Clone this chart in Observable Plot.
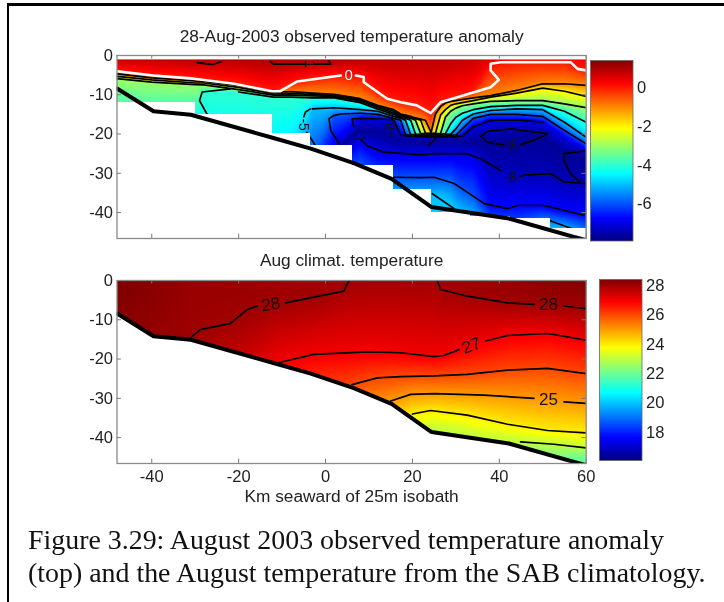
<!DOCTYPE html>
<html>
<head>
<meta charset="utf-8">
<script src="https://cdn.jsdelivr.net/npm/d3@7"></script>
<script src="https://cdn.jsdelivr.net/npm/@observablehq/plot@0.6"></script>
<style>
html,body{margin:0;padding:0;background:#fff}
#page{position:relative;width:724px;height:602px;overflow:hidden;background:#fff;font-family:"Liberation Sans",Arial,sans-serif;filter:blur(0.45px)}
#page svg{position:absolute;background:transparent;max-width:none}
.cap{position:absolute;left:28px;font-family:"Liberation Serif","Times New Roman",serif;font-size:27.9px;line-height:33px;white-space:nowrap;color:#111}
.rule{position:absolute;background:#000}
</style>
</head>
<body>
<div id="page">
<div class="rule" style="left:7px;top:3px;width:717px;height:2.5px"></div>
<div class="rule" style="left:7px;top:3px;width:2px;height:599px"></div>
<div class="cap" style="top:523px">Figure 3.29: August 2003 observed temperature anomaly</div>
<div class="cap" style="top:556px">(top) and the August temperature from the SAB climatology.</div>
</div>
<script>
// ---------- shared ----------
const xTicks = [-40,-20,0,20,40,60];
const yTicks = [0,10,20,30,40];
const bathyKm    = [-48,-39.6,-31,-12,-3.4,6.5,15.2,24.4,42.2,57.2,60];
const bathyDepth = [8.4,14.2,15.1,21,23.7,27.4,31.4,38.6,41.5,46.2,47];

// ---------- top panel: anomaly profile table (depth of each isotherm at each column) ----------
const anomTitle = "28-Aug-2003 observed temperature anomaly";
const anomKm = [-48,-40,-30,-28,-20,-12,-8,-3,2,8,12,15.7,17.3,18.4,19.6,20.7,21.9,23,24.3,25.3,26.5,27.6,28.8,30,31.5,34,38,44,50,55,60];
const anomSurface = [0.75,0.8,0.9,0.9,0.95,1,1,1,1,0.9,0.85,0.85,0.85,0.85,0.85,0.85,0.85,0.85,0.85,0.85,0.85,0.85,0.8,0.8,0.8,0.75,0.5,0.1,0.1,0.1,0.3];
const iso0  = [4.0,5.1,5.9,6.1,7.0,9.1,7.2,5.7,5.1,5.7,9.3,11.5,11.9,12.1,12.3,12.6,13.2,13.8,14.7,13.6,11.9,11.5,11.1,10.8,10.4,9.3,3.0,1.7,1.7,1.7,3.8];
const isoM1 = [4.7,5.7,6.5,6.6,7.6,9.4,9.2,9.6,9.9,11,12.7,13.8,14.9,15.2,15.5,15.9,16.2,16.5,19.6,14.9,13,12.1,11.7,11.5,11.2,10.8,10.2,8.9,7.2,7.2,7.6];
const isoM2 = [5.3,6.2,7,7,8.1,9.8,9.7,9.9,10.2,11.3,13,14.2,15.2,15.4,15.8,16.1,16.5,19.8,19.8,19.8,15.1,13.8,12.7,12.3,12,11.5,10.6,9.6,8.3,9.1,10.4];
const isoM3 = [5.9,6.8,7.4,7.5,8.7,10.1,10.1,10.3,10.4,11.6,13.3,14.6,15.4,15.7,16,16.5,19.9,19.9,19.9,19.9,19.8,15.7,14.2,13.4,12.8,12.3,11.7,11.5,11.5,12.3,13.3];
const isoM4 = [14.9,14.9,14,9.1,9.3,10.6,10.6,10.8,10.8,12,13.7,15,15.7,16,16.5,20,20.1,20.1,20.1,20.1,20.1,19.9,17.4,15.7,14.7,13.8,13,12.7,12.7,14.2,17];
const isoM5 = [33.5,33.5,33.5,33.5,33.5,33.5,29.3,13.6,13.3,13.8,14.2,15.5,16,16.5,20.1,20.2,20.3,20.3,20.3,20.3,20.3,20.1,20.1,18.7,16.5,14.9,14,13.6,13.8,17,20.8];
const isoM6 = [34.3,34.3,34.3,34.3,34.3,34.3,34.3,26.7,15.7,14.7,15,16,16.5,20.1,20.3,20.3,20.4,20.4,20.4,20.4,20.4,20.4,20.3,20.3,18.7,16,15,15,15.5,19.1,22.5];
const isoM7 = [35.2,35.2,35.2,35.2,35.2,35.2,35.2,33.5,23.3,16.1,16.1,16.4,20.3,20.4,20.6,20.6,20.7,20.7,20.7,20.7,20.7,20.7,20.7,20.7,20.5,18.2,16.5,16.4,17,20.8,24.2];
const coreM77 = [36,36,36,36,36,36,36,34.3,25,19.1,19.5,20.8,21.6,21.6,21.6,21.6,21.6,21.6,21.6,21.6,21.6,21.6,21.6,21.6,21.6,22.1,22.5,20.8,20.8,24.6,25.9];
const lowM7 = [36.9,36.9,36.9,36.9,36.9,36.9,36.9,35.2,26.7,21,24.2,25,25.3,25.3,25.3,25.3,25.3,25.3,25.3,25.3,25,25,25,25,25.2,25.4,28,30.5,30.1,32.2,32.6];
const lowM6 = [37.7,37.7,37.7,37.7,37.7,37.7,37.7,36,29.3,27.6,31,31,31,31,31,31,31,31,31,31,31,31,31,32.6,34,35.6,38.4,38.4,38.6,39.9,40.7];
const lowM5 = [38.6,38.6,38.6,38.6,38.6,38.6,38.6,36.9,35.2,35.2,38.6,35.2,36,36,36,36,36,36,36,35.6,35.6,36,36.9,38.6,39.9,41.1,43.7,46,43.7,44.1,45.4];
const anomFloor = anomKm.map(() => 50);
// anomaly carried by the three lower surfaces, column by column
const lowM7Value = [-7,-7,-7,-7,-7,-7,-7,-7,-7,-7,-7,-7,-7,-7,-7,-7,-7,-7,-7,-7,-7,-7,-7,-7,-7,-7,-7.4,-7.4,-7.4,-7.4,-7.4];
const lowM6Value = [-6,-6,-6,-6,-6,-6,-6,-6,-6,-6,-6,-6,-6,-6,-6,-6,-6,-6,-6,-6,-6,-6,-6,-6,-6,-6,-6.7,-6.7,-6.7,-6.7,-6.7];
const lowM5Value = [-5,-5,-5,-5,-5,-5,-5,-5,-5,-5,-5,-5,-5,-5,-5,-5,-5,-5,-5,-5,-5,-5,-5,-5,-5,-5,-5.6,-5.6,-5,-5,-5.4];
const anomLevels = [0,-1,-2,-3,-4,-5,-6,-7,-7.7,lowM7Value,lowM6Value,lowM5Value,-4.4];

// staircase of empty grid cells in the observed section
const cellKm1    = [-48,-39.6,-30.3,-12.5,-3.8,5.8,15.4,24.2,33,42.2,51.5];
const cellKm2    = [-39.6,-30.3,-12.5,-3.8,5.8,15.4,24.2,33,42.2,51.5,60];
const cellBottom = [12,12,15.1,19.9,23,28,34.1,40.1,41.1,41.6,44.1];

// white zero contour
const zeroKmA = [-48,-39.6,-30.3,-21.1,-12.3,-10.4,-6.5,3.5];
const zeroDA  = [4,5.1,5.9,7.2,9.1,9.1,6.6,5.1];
const zeroKmB = [7,8.8,8.8,14.2,17.3,21,24.2,26.5,38,39.9,38,38,40.3,56.4,58,60];
const zeroDB  = [5.1,5.5,6.8,11,11.9,12.7,14.7,11.9,8.1,6.2,3.8,2.1,1.7,1.7,3.4,3.8];

// traced black contours that double back on themselves
const anomTraces = [
  {km:[-29.5,-26,-24],              d:[1.8,2.3,1.6]},                    // +1 arc
  {km:[-12.7,-12,-4.5],             d:[1.5,2.2,2.2]},                    // +1
  {km:[-2.5,1.2,0.8],               d:[2.2,2.2,1.4]},                    // +1
  {km:[-21.9,-28.4,-29,-27.3],      d:[8.5,9.3,11.5,14.9]},              // -4 hook
  {km:[-3.5,-4.6,-5],               d:[13.6,14.4,15.6]},                 // -5 hook
  {km:[-4.3,-2.3],                  d:[19.6,23]},                        // -5 hook
  {km:[8,3.5,1.9,0.8,1.2,3.5],      d:[14.7,14.9,15.3,16.1,19.1,23]},    // -6 hook
  {km:[8,6.1,6.5],                  d:[16.1,16.1,18.2]},                 // -7 hook
  {km:[8.2,9.6,13.4,21.9,25,32.6,35.7,40.3], d:[21.5,23,24.6,25.3,25,25,26.3,29.3]}, // -7 lower
  {km:[44.8,45.7,51.8,54.9,59.5],   d:[30.7,30.5,30.1,32.2,32.6]},       // -7 lower
  {km:[60,54.9,54.9,56.4,59],       d:[24.2,25,26.7,30.1,32.6]},         // -7 right
  {km:[15.4,21.9,25,29.6,32.6,36.5,41.9,44.2,50.3,54.9,59.5], d:[31,31.1,31,32.6,34.8,37.7,39,38.2,38.2,39.4,40.7]}, // -6 lower
  {km:[24.6,29.6],                  d:[35.2,39]},                        // wedge
  {km:[51.5,56.8],                  d:[42,44.1]},                        // wedge
  {km:[41,40.3,37.3,35.7,37.3,42.6,51.1,48,44.9], d:[22.7,22.7,22.1,20.6,19.3,18.7,19.9,21.6,22.7]}, // core
  {km:[23.8,25.7,31.1],             d:[22.9,20.8,20.4]}                  // core, under plume
];
const anomLabelText  = ["1","-5","-7","-8","-8","-8"];
const anomLabelKm    = [-3.8,-5,7.6,15,42.6,42.6];
const anomLabelDepth = [2.2,17.6,20.6,18.7,22.9,31];
const anomLabelAngle = [90,90,65,-90,0,0];

// ---------- bottom panel: climatology ----------
const climTitle = "Aug climat. temperature";
const xLabel = "Km seaward of 25m isobath";
const climKm = [-48,-40,-31,-20,-11,-3,5,10,15,20,25,27,31,37,42,51,60];
const climSurface = [28.45,28.3,28.15,28.1,28.05,28,28,28,28,28,28,28.02,28.05,28.1,28.15,28.3,28.4];
const clim28 = [30,30,14.6,10,5.9,4.3,1,0,0,0,0,2,3.3,4.6,5.7,6.3,7.2];
const clim27 = [60,60,40,30,21,18.9,18.3,18.2,18.3,18.9,19.4,19.1,17.4,15.4,14,13.5,15.2];
const clim26 = [62,62,50,40,30,28,27,25.2,24.5,24.3,24.3,24.2,24,23.5,22.8,22.4,23.7];
const clim25 = [70,70,60,50,40,36,33,32,30.7,29,28.8,28.9,29,29.2,29.6,30.3,31.3];
const clim24 = [80,80,70,60,50,44,40,38,36.5,33.9,33.2,33.4,34,35.4,36.6,38.2,38.8];
const clim23 = [90,90,80,70,60,52,47,45,42,39,38,38.5,39,40.5,41,41.6,42.6];
const clim22 = [100,100,90,80,70,60,55,52,50,48,47,47,47,46.5,46,46,45];
const climLevels = [28,27,26,25,24,23,22];
const climTraces = [
  {km:[-31.1,-28.8,-21.9,-18,-15.7],       d:[14.6,12.5,10.9,7.4,6.5]},
  {km:[-9.2,4.2,5.4],                      d:[5.7,2.7,0]},
  {km:[25.7,26.5,32.6,41.9,48],            d:[0,2.3,4,5.7,6.1]},
  {km:[54.9,60],                           d:[6.5,7.2]},
  {km:[-11.1,-2.7,9.6,17.3,25,27.3,30.7],  d:[21,18.8,18.2,18.4,19.4,19.1,17.6]},
  {km:[36.9,41.9,51.1,60],                 d:[15.4,14,13.5,15.2]},
  {km:[6.1,11.9,17.3,25,32.6,41.9,51.1,60],d:[26.5,24.8,24.5,24.3,23.9,22.8,22.4,23.7]},
  {km:[15,19.6,25,36.5,48],                d:[30.7,29,28.8,29.2,30]},
  {km:[54.9,60],                           d:[30.9,31.3]},
  {km:[20,24.2,32.6,41.9,51.1,60],         d:[34,33.1,34.3,36.6,38.2,38.8]},
  {km:[44.9,52.6,60],                      d:[41.1,41.7,42.6]}
];
const climLabelText  = ["28","28","27","25"];
const climLabelKm    = [-12.6,51.3,33.6,51.3];
const climLabelDepth = [6.1,6.1,16.6,30.3];
const climLabelAngle = [-8,0,-20,0];

// ---------- colour bars ----------
const anomBarRange = [-7.9,1.4];
const anomBarTicks = [0,-2,-4,-6];
const climBarRange = [16.1,28.4];
const climBarTicks = [28,26,24,22,20,18];
const jetStops  = [0,0.125,0.375,0.625,0.875,1];
const jetColors = ["#000080","#0000ff","#00ffff","#ffff00","#ff0000","#800000"];

// ---------- helpers ----------
const jetScale = d3.scaleLinear().domain(jetStops).range(jetColors);
const jet = t => jetScale(t);
const colorOf = domain => ({type:"linear",domain,interpolate:jet,clamp:true});
const hyphen = v => String(v === 0 ? 0 : -v);

// value at (km, depth) from per-column isotherm depths
function field(kms, depthTable, valueTable){
  return (x, y) => {
    let i = d3.bisectRight(kms, x) - 1;
    i = Math.max(0, Math.min(kms.length - 2, i));
    const t = Math.max(0, Math.min(1, (x - kms[i]) / (kms[i+1] - kms[i])));
    let pd = null, pv = null;
    for (let k = 0; k < depthTable.length; k++){
      const a = depthTable[k], v = valueTable[k];
      const dk = a[i] + (a[i+1] - a[i]) * t;
      const vk = Array.isArray(v) ? v[i] + (v[i+1] - v[i]) * t : v;
      if (y <= dk){
        if (pd === null || dk <= pd) return vk;
        return pv + (vk - pv) * (y - pd) / (dk - pd);
      }
      pd = dk; pv = vk;
    }
    return pv;
  };
}
const zip = (km, d) => km.map((x,i) => ({x, y:d[i]}));
const labelsOf = (txt,km,d,r) => txt.map((t,i) => ({t, x:km[i], y:d[i], r:r[i]}));
const lineOf = (rows, o={}) => Plot.line(rows,{x:"x",y:"y",stroke:"#000",strokeWidth:1.7,clip:true,curve:"linear",...o});

const font = '"Liberation Sans",Arial,sans-serif';
const chartStyle = {fontFamily:font,background:"transparent",color:"#222",overflow:"visible"};
const tickFont = 16.5, titleFont = 17.3;

function panelFurniture(){
  return [
    Plot.ruleX(xTicks,{y1:0,y2:0.9,stroke:"#777"}),
    Plot.ruleX(xTicks,{y1:46.6,y2:45.5,stroke:"#777"}),
    Plot.ruleY(yTicks,{x1:-48,x2:-47,stroke:"#777"}),
    Plot.ruleY(yTicks,{x1:60,x2:59,stroke:"#777"}),
    Plot.frame({stroke:"#8a8a8a",strokeWidth:1.3})
  ];
}

// ---------- top panel ----------
const anomDepths = [anomSurface.map(()=>1),iso0,isoM1,isoM2,isoM3,isoM4,isoM5,isoM6,isoM7,coreM77,lowM7,lowM6,lowM5,anomFloor];
const anomValues = [anomSurface,...anomLevels];
const anomField = field(anomKm, anomDepths, anomValues);
const tableLine = (iso, lo, hi) => zip(anomKm, iso).filter(p => p.x >= lo && p.x <= hi);

const topPlot = Plot.plot({
  width:592, height:240, marginLeft:116.5, marginRight:6.3, marginTop:55, marginBottom:2, style:chartStyle,
  x:{domain:[-48,60],axis:null},
  y:{domain:[46.6,0],axis:null},
  color:colorOf(anomBarRange),
  marks:[
    Plot.raster({x1:-48,x2:60,y1:1,y2:46.6,fill:anomField,pixelSize:1}),
    lineOf(tableLine(isoM1,-48,60)),
    lineOf(tableLine(isoM2,-48,60)),
    lineOf(tableLine(isoM3,-48,60)),
    lineOf(tableLine(isoM4,-20,60)),
    lineOf(tableLine(isoM5,-3,60)),
    lineOf(tableLine(isoM6,8,60)),
    lineOf(tableLine(isoM7,8,50)),
    ...anomTraces.map(c => lineOf(zip(c.km,c.d))),
    Plot.rect(cellKm1.map((_,i)=>i),{x1:i=>cellKm1[i],x2:i=>cellKm2[i]+0.3,y1:i=>cellBottom[i],y2:47,fill:"#fff",shapeRendering:"crispEdges",clip:true}),
    lineOf(zip(zeroKmA,zeroDA),{stroke:"#fff",strokeWidth:2.6}),
    lineOf(zip(zeroKmB,zeroDB),{stroke:"#fff",strokeWidth:2.6}),
    Plot.text([{t:"0",x:5.3,y:5.1}],{x:"x",y:"y",text:"t",fill:"#fff",fontSize:15,fontFamily:font,stroke:"#333",strokeWidth:0.4}),
    lineOf(zip(bathyKm,bathyDepth),{strokeWidth:4}),
    Plot.text(labelsOf(anomLabelText,anomLabelKm,anomLabelDepth,anomLabelAngle),{x:"x",y:"y",text:"t",rotate:"r",fontSize:14,fontFamily:font,fill:"#111"}),
    ...panelFurniture(),
    Plot.axisY({ticks:yTicks,tickSize:0,tickPadding:4,fontSize:tickFont,fontFamily:font,tickFormat:hyphen,label:null}),
    Plot.text([anomTitle],{frameAnchor:"top",dy:-26,fontSize:titleFont,fontFamily:font,fill:"#222"})
  ]
});
topPlot.style.left="0px"; topPlot.style.top="0px";

// ---------- bottom panel ----------
const climDepths = [climKm.map(()=>0),clim28,clim27,clim26,clim25,clim24,clim23,clim22];
const climValues = [climSurface,...climLevels];
const climField = field(climKm, climDepths, climValues);

const bottomPlot = Plot.plot({
  width:592, height:262, marginLeft:116.5, marginRight:6.3, marginTop:30, marginBottom:49, style:chartStyle,
  x:{domain:[-48,60],axis:null},
  y:{domain:[46.6,0],axis:null},
  color:colorOf(climBarRange),
  marks:[
    Plot.raster({x1:-48,x2:60,y1:0,y2:46.6,fill:climField,pixelSize:1}),
    ...climTraces.map(c => lineOf(zip(c.km,c.d))),
    Plot.areaY(zip(bathyKm,bathyDepth),{x:"x",y1:"y",y2:()=>46.6,fill:"#fff",clip:true}),
    lineOf(zip(bathyKm,bathyDepth),{strokeWidth:4}),
    Plot.text(labelsOf(climLabelText,climLabelKm,climLabelDepth,climLabelAngle),{x:"x",y:"y",text:"t",rotate:"r",fontSize:17,fontFamily:font,fill:"#111"}),
    ...panelFurniture(),
    Plot.axisY({ticks:yTicks,tickSize:0,tickPadding:4,fontSize:tickFont,fontFamily:font,tickFormat:hyphen,label:null}),
    Plot.axisX({ticks:xTicks,tickSize:0,tickPadding:7,fontSize:tickFont,fontFamily:font,tickFormat:v=>String(v),label:null}),
    Plot.text([climTitle],{frameAnchor:"top",dy:-27,fontSize:titleFont,fontFamily:font,fill:"#222"}),
    Plot.text([xLabel],{frameAnchor:"bottom",dy:38,fontSize:titleFont,fontFamily:font,fill:"#222"})
  ]
});
bottomPlot.style.left="0px"; bottomPlot.style.top="250px";

// ---------- colour bars ----------
function colorBar(range, ticks, pxLeft, pxTop, pxHeight){
  const svg = Plot.plot({
    width:85, height:pxHeight+10, marginLeft:0, marginRight:42.5, marginTop:5, marginBottom:5, style:chartStyle,
    x:{domain:[0,1],axis:null},
    y:{domain:range,axis:null},
    color:colorOf(range),
    marks:[
      Plot.raster({x1:0,x2:1,y1:range[0],y2:range[1],fill:(x,y)=>y,pixelSize:1}),
      Plot.frame({stroke:"#666",strokeWidth:0.8}),
      Plot.axisY({anchor:"right",ticks,tickSize:0,tickPadding:4,fontSize:tickFont,fontFamily:font,tickFormat:v=>String(v),label:null})
    ]
  });
  svg.style.left = pxLeft + "px";
  svg.style.top = (pxTop - 5) + "px";
  return svg;
}
const page = document.getElementById("page");
page.append(topPlot, bottomPlot,
  colorBar(anomBarRange, anomBarTicks, 590, 59.5, 180.5),
  colorBar(climBarRange, climBarTicks, 599, 279, 181));
</script>
</body>
</html>
